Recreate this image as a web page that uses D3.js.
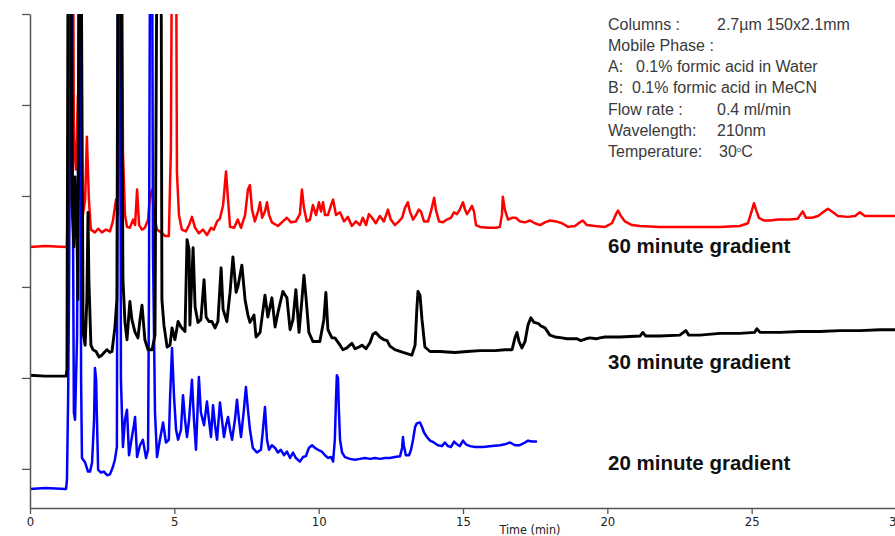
<!DOCTYPE html>
<html>
<head>
<meta charset="utf-8">
<script src="https://cdn.jsdelivr.net/npm/d3@7/dist/d3.min.js"></script>
<style>
  html, body { margin: 0; padding: 0; background: #fff; }
  svg { display: block; }
</style>
</head>
<body>
<svg id="chart" width="895" height="536"></svg>
<script>
// ---------------- DATA ----------------
const xTicks = [0, 5, 10, 15, 20, 25, 30];
const yTicks = [0, 100, 200, 300, 400, 500];
const xTitle = "Time (min)";

// [time (min), signal (a.u.)]  — 60 minute gradient (red)
const red60 = [
[0,244],[0.52,245],[1.25,244],[1.28,246],[1.35,351],[1.42,600],[1.49,600],[1.52,362],[1.59,329],[1.66,411],[1.73,318],[1.80,272],[1.91,296],[1.97,365],[2.04,296],[2.11,263],[2.25,260],[2.36,264],[2.49,260],[2.63,263],[2.77,261],[2.87,272],[2.98,296],[3.05,279],[3.12,450],[3.15,600],[3.19,600],[3.22,348],[3.29,279],[3.36,266],[3.46,265],[3.57,274],[3.64,268],[3.71,307],[3.78,268],[3.88,263],[3.98,265],[4.09,274],[4.16,301],[4.23,307],[4.30,279],[4.40,263],[4.54,260],[4.68,256],[4.81,256],[4.88,351],[4.92,600],[5.06,600],[5.09,326],[5.16,279],[5.26,263],[5.40,261],[5.51,268],[5.61,277],[5.72,265],[5.85,259],[5.99,263],[6.13,257],[6.27,265],[6.37,263],[6.48,272],[6.58,275],[6.69,290],[6.79,327],[6.86,296],[6.93,266],[7.07,265],[7.20,274],[7.31,265],[7.45,279],[7.55,307],[7.62,312],[7.69,285],[7.79,272],[7.90,283],[7.97,293],[8.04,276],[8.14,283],[8.21,293],[8.28,279],[8.38,271],[8.59,267],[8.76,272],[8.90,276],[9.04,271],[9.21,272],[9.35,280],[9.42,307],[9.49,287],[9.59,272],[9.70,274],[9.80,290],[9.91,279],[10.01,293],[10.08,283],[10.15,293],[10.22,279],[10.32,279],[10.43,290],[10.50,296],[10.60,279],[10.74,282],[10.88,272],[11.01,277],[11.15,267],[11.29,272],[11.43,268],[11.53,276],[11.64,268],[11.74,280],[11.85,276],[11.98,270],[12.12,278],[12.26,272],[12.40,285],[12.50,274],[12.64,268],[12.78,272],[12.89,276],[12.99,287],[13.09,293],[13.16,283],[13.27,274],[13.37,279],[13.47,285],[13.54,283],[13.65,272],[13.79,272],[13.89,283],[14.00,298],[14.06,285],[14.17,272],[14.31,271],[14.44,274],[14.58,276],[14.69,282],[14.79,280],[14.89,285],[15.00,293],[15.07,285],[15.14,280],[15.24,285],[15.31,289],[15.38,283],[15.45,268],[15.59,266],[15.86,265],[16.14,265],[16.28,266],[16.35,280],[16.38,299],[16.45,285],[16.56,274],[16.70,276],[16.83,276],[16.97,272],[17.15,271],[17.32,273],[17.49,270],[17.67,268],[17.84,271],[18.01,273],[18.22,272],[18.43,270],[18.64,266],[18.88,267],[19.05,271],[19.15,273],[19.29,268],[19.57,267],[19.92,266],[20.16,270],[20.30,280],[20.37,284],[20.47,278],[20.61,272],[20.85,268],[21.13,267],[21.82,266],[22.86,266],[23.90,266],[24.59,267],[24.87,270],[24.97,280],[25.08,292],[25.15,285],[25.25,276],[25.42,273],[25.63,273],[25.91,274],[26.32,274],[26.60,275],[26.70,280],[26.77,283],[26.88,276],[27.09,276],[27.30,278],[27.47,282],[27.64,286],[27.78,283],[27.99,278],[28.33,277],[28.58,278],[28.75,282],[28.92,278],[29.27,278],[29.62,278],[30,278]
];

// 30 minute gradient (black)
const black30 = [
[0,103],[0.52,102],[1.25,102],[1.28,109],[1.32,600],[1.42,600],[1.45,296],[1.52,244],[1.56,321],[1.63,252],[1.66,186],[1.70,600],[1.77,600],[1.84,150],[1.91,136],[1.97,186],[2.01,282],[2.04,208],[2.11,136],[2.18,131],[2.29,129],[2.39,123],[2.49,125],[2.60,129],[2.67,131],[2.77,128],[2.84,129],[2.94,155],[3.01,186],[3.05,600],[3.15,600],[3.22,208],[3.29,161],[3.36,142],[3.46,184],[3.53,164],[3.64,150],[3.74,144],[3.81,164],[3.88,180],[3.98,142],[4.09,131],[4.23,131],[4.33,147],[4.40,600],[4.54,600],[4.57,186],[4.64,158],[4.75,134],[4.85,136],[4.92,155],[5.02,142],[5.13,162],[5.23,156],[5.37,151],[5.44,252],[5.51,241],[5.54,158],[5.65,243],[5.72,178],[5.82,161],[5.92,164],[6.03,208],[6.10,167],[6.20,162],[6.30,162],[6.41,155],[6.51,162],[6.62,221],[6.69,175],[6.82,162],[6.93,194],[7.03,233],[7.14,194],[7.20,200],[7.34,224],[7.45,186],[7.55,169],[7.62,161],[7.76,169],[7.83,145],[7.97,150],[8.14,191],[8.24,167],[8.38,188],[8.49,156],[8.59,172],[8.76,195],[8.90,188],[9.01,153],[9.11,164],[9.21,197],[9.32,150],[9.42,186],[9.49,213],[9.56,189],[9.66,150],[9.80,140],[9.94,140],[10.04,140],[10.18,164],[10.25,194],[10.32,153],[10.46,144],[10.56,144],[10.74,136],[10.84,131],[10.98,133],[11.08,136],[11.15,138],[11.26,132],[11.40,134],[11.50,136],[11.64,132],[11.78,139],[11.88,148],[11.98,150],[12.12,145],[12.26,142],[12.37,141],[12.47,135],[12.64,131],[12.92,128],[13.23,125],[13.34,136],[13.40,175],[13.44,195],[13.51,191],[13.58,164],[13.68,134],[13.86,129],[14.20,129],[14.72,128],[15.14,129],[15.59,130],[16.11,130],[16.45,131],[16.70,131],[16.80,144],[16.87,150],[16.94,140],[17.04,133],[17.15,140],[17.25,158],[17.35,166],[17.46,161],[17.60,160],[17.70,157],[17.84,155],[18.01,147],[18.19,145],[18.43,144],[18.60,143],[18.77,143],[18.95,143],[19.08,141],[19.26,143],[19.40,144],[19.61,143],[19.74,144],[19.92,145],[20.44,145],[21.13,146],[21.23,150],[21.33,146],[21.82,146],[22.51,147],[22.72,152],[22.82,147],[23.21,147],[23.90,149],[24.59,149],[25.10,150],[25.18,154],[25.29,150],[25.98,150],[26.67,151],[27.36,151],[28.06,152],[28.75,152],[29.44,153],[30,153]
];

// 20 minute gradient (blue)
const blue20 = [
[0,-22],[0.52,-21],[1.25,-22],[1.28,-12],[1.32,76],[1.35,185],[1.39,406],[1.42,600],[1.45,600],[1.49,263],[1.52,62],[1.56,54],[1.63,145],[1.66,296],[1.70,600],[1.73,600],[1.77,98],[1.80,12],[1.91,7],[2.01,-3],[2.08,-3],[2.15,7],[2.22,54],[2.25,111],[2.29,98],[2.32,54],[2.36,-1],[2.46,-4],[2.56,-3],[2.67,-7],[2.77,-6],[2.87,2],[2.94,10],[3.01,24],[3.05,600],[3.12,600],[3.15,98],[3.22,24],[3.29,54],[3.36,65],[3.43,15],[3.53,35],[3.60,48],[3.64,57],[3.71,13],[3.81,26],[3.91,32],[4.02,12],[4.09,21],[4.12,186],[4.16,600],[4.23,600],[4.26,241],[4.33,62],[4.40,13],[4.50,32],[4.61,51],[4.71,29],[4.81,32],[4.85,76],[4.92,133],[4.99,79],[5.06,43],[5.13,32],[5.23,43],[5.30,81],[5.37,54],[5.44,35],[5.51,54],[5.61,98],[5.68,54],[5.75,21],[5.85,101],[5.92,62],[6.03,48],[6.13,74],[6.20,54],[6.27,35],[6.34,70],[6.41,48],[6.48,32],[6.58,73],[6.65,54],[6.72,35],[6.79,48],[6.86,57],[6.93,43],[7.00,32],[7.10,54],[7.17,76],[7.24,54],[7.31,35],[7.41,65],[7.48,90],[7.55,65],[7.62,43],[7.72,23],[7.86,18],[8.00,21],[8.07,43],[8.14,68],[8.21,32],[8.28,21],[8.38,26],[8.49,23],[8.59,18],[8.69,21],[8.80,15],[8.90,19],[9.01,12],[9.11,18],[9.21,12],[9.35,8],[9.46,13],[9.56,14],[9.66,23],[9.77,26],[9.87,23],[9.98,21],[10.11,19],[10.22,15],[10.32,12],[10.43,13],[10.50,8],[10.56,32],[10.60,76],[10.63,103],[10.67,100],[10.70,65],[10.74,32],[10.81,18],[10.91,13],[11.08,11],[11.26,10],[11.43,11],[11.60,12],[11.78,11],[11.95,12],[12.12,11],[12.30,12],[12.47,12],[12.64,13],[12.82,14],[12.89,23],[12.92,35],[12.95,26],[13.02,15],[13.13,15],[13.20,21],[13.27,32],[13.34,46],[13.40,50],[13.51,51],[13.58,46],[13.65,40],[13.75,35],[13.86,31],[13.99,29],[14.13,26],[14.27,25],[14.37,29],[14.48,25],[14.58,24],[14.69,30],[14.79,27],[14.89,25],[15.00,31],[15.10,27],[15.24,25],[15.41,24],[15.69,24],[15.93,25],[16.28,26],[16.45,27],[16.63,29],[16.80,26],[16.97,26],[17.15,29],[17.25,31],[17.39,30],[17.53,30]
];

const series = [
  { name: "60 minute gradient", data: red60,   color: "#ff0000", width: 2.5, labelV: 245 },
  { name: "20 minute gradient", data: blue20,  color: "#0000ff", width: 2.5, labelV: 6 },
  { name: "30 minute gradient", data: black30, color: "#000000", width: 2.9, labelV: 117 }
];

const infoLabels = ["Columns :", "Mobile Phase :", "A:", "B:", "Flow rate :", "Wavelength:", "Temperature:"];
const infoValues = ["2.7µm 150x2.1mm", "", "0.1% formic acid in Water", "0.1% formic acid in MeCN", "0.4 ml/min", "210nm", "30"];

// ---------------- CHART ----------------
(function () {
const svg = d3.select("#chart");
const pLeft = 30, pRight = 896, pTop = 14, pBottom = 508;

const x = d3.scaleLinear().domain([0, 30]).range([pLeft, pRight]);
const y = d3.scaleLinear().domain([-43, 500]).range([pBottom, pTop]);

svg.append("defs").append("clipPath").attr("id", "plotclip")
  .append("rect").attr("x", pLeft).attr("y", pTop).attr("width", pRight - pLeft).attr("height", pBottom - pTop);

const line = d3.line().x(d => x(d[0])).y(d => y(d[1]));

const g = svg.append("g").attr("clip-path", "url(#plotclip)");
series.forEach(s => {
  g.append("path").datum(s.data)
    .attr("d", line)
    .attr("fill", "none")
    .attr("stroke", s.color)
    .attr("stroke-width", s.width)
    .attr("stroke-linejoin", "round")
    .attr("stroke-linecap", "round");
});

// axes
const axisFont = "'Liberation Sans Narrow', 'DejaVu Sans Condensed', 'Liberation Sans', sans-serif";
const yAxis = svg.append("g").attr("transform", `translate(${pLeft},0)`)
  .call(d3.axisLeft(y).tickValues(yTicks).tickSize(8).tickSizeOuter(0).tickFormat(""));
yAxis.select(".domain").attr("stroke", "#555").attr("stroke-width", 1.5);
yAxis.selectAll(".tick line").attr("stroke", "#555").attr("stroke-width", 1.3);

const xAxis = svg.append("g").attr("transform", `translate(0,${pBottom})`)
  .call(d3.axisBottom(x).tickValues(xTicks).tickSize(6).tickSizeOuter(0).tickFormat(d3.format("d")));
xAxis.select(".domain").attr("stroke", "#555").attr("stroke-width", 1.5);
xAxis.selectAll(".tick line").attr("stroke", "#555").attr("stroke-width", 1.3);
xAxis.selectAll(".tick text").attr("font-family", axisFont).attr("font-size", 13)
  .attr("fill", "#222").attr("y", 9);

svg.append("text").attr("x", 530).attr("y", 533.5)
  .attr("text-anchor", "middle").attr("font-family", axisFont).attr("font-size", 12.5)
  .attr("fill", "#222").text(xTitle);

// info block
const infoFont = "'Liberation Sans', Arial, sans-serif";
const infoG = svg.append("g").attr("font-family", infoFont).attr("font-size", 16).attr("fill", "#3a3a3a");
const lineH = 21.3, baseY = 29.5;
infoLabels.forEach((t, i) => {
  infoG.append("text").attr("x", 608).attr("y", baseY + i * lineH).text(t);
});
const valX = [717, 0, 636, 632, 717, 717, 719];
infoValues.forEach((t, i) => {
  if (!t) return;
  const tx = infoG.append("text").attr("x", valX[i]).attr("y", baseY + i * lineH).text(t);
  if (i === 6) {
    tx.append("tspan").attr("font-size", 8).attr("dy", -5).text("o");
    tx.append("tspan").attr("dy", 5).text("C");
  }
});

// series labels
series.forEach(s => {
  svg.append("text").attr("x", 608).attr("y", y(s.labelV) + 7)
    .attr("font-family", infoFont).attr("font-weight", "bold").attr("font-size", 20.5)
    .attr("fill", "#111").text(s.name);
});
})();
</script>
</body>
</html>
